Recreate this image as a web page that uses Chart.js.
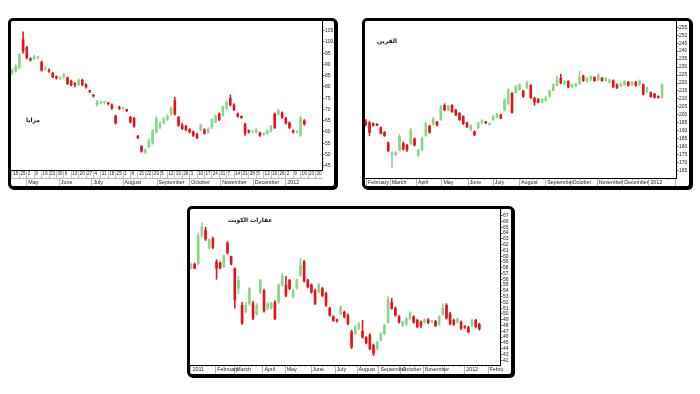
<!DOCTYPE html>
<html><head><meta charset="utf-8">
<script src="https://cdn.jsdelivr.net/npm/chart.js@4.4.1/dist/chart.umd.min.js"></script>
<style>
html,body{margin:0;padding:0;background:#fff;width:700px;height:394px;overflow:hidden}
.panel{position:absolute;box-sizing:border-box;border:3px solid #000;border-radius:5px;box-shadow:1px 1px 0 #000;background:#fff}
.panel canvas{position:absolute;left:0;top:0}
.title{position:absolute;font:bold 6px 'DejaVu Sans',sans-serif;color:#111;direction:rtl;white-space:nowrap;z-index:5}
</style></head><body>
<div class="panel" style="left:8px;top:18px;width:329px;height:171px"><canvas id="c1" width="323" height="165"></canvas></div>
<div class="panel" style="left:362px;top:18px;width:330px;height:171px"><canvas id="c2" width="324" height="165"></canvas></div>
<div class="panel" style="left:187px;top:206px;width:327px;height:171px"><canvas id="c3" width="321" height="165"></canvas></div>
<div class="title" style="left:26px;top:116px">مزايا</div>
<div class="title" style="left:377px;top:37px">القرين</div>
<div class="title" style="left:228px;top:216px">عقارات الكويت</div>
<script>
// ---------- Panel 1: مزايا ----------
const open1  = [86,87,88.5,101,97.5,92.5,92.5,93,91,88,87.5,86,84.5,84,84.5,84,82.5,81.5,81,83,81,78.5,76.5,72,73,73,72.8,72,67,71,70.5,70,66.5,66,58,53.5,51,53.5,55,60,62,64,65.5,68,74,66.5,63,62.5,61,60,59,61,61,60,62,64.5,68,67.5,70.5,75,72,68,67,63.5,60.5,60,60,59.5,59,59.5,60.5,68,68,68.5,66,64,60.5,60,58.5,65];
const high1  = [88,90,95,104.5,98,93,94,93.5,91.5,89,88,86.5,85,84.5,86,84.5,83,82,83.5,83.5,81.5,78.5,76.5,74,73.5,73.5,73,72.5,67.5,71.5,71,70,67,66.5,58.5,54,52.5,57,61,67,64.5,66.5,67.5,71,75.5,67,64,63,61.5,60.5,59.5,63.5,61.5,62,66,67.5,68.5,71.5,74,76.5,72.5,68.5,67,64,61,60.5,61.5,60,59.5,61,63,68.5,70,69,66.5,64.5,61,60.5,67,65.5];
const low1   = [85.5,86.5,88,95,92.5,91.5,92,92.5,87,87.5,86.5,84,83.5,83.5,84,81,80.5,80,80.5,80.5,79.5,77.5,75.5,71.5,72.5,72.5,72,70,63.5,70,70,69,64,62,57,51,50.5,53,54.5,59.5,61.5,63.5,65,67.5,67.5,62.5,61,60.5,59.5,58,57,60.5,59,59.5,61.5,64,65,67,70,71.5,69.5,66.5,66,58.5,59.5,59.5,59.5,58,58.5,59,60,61.5,67.5,66,63.5,61.5,59.5,59.5,58,63];
const close1 = [87.5,89,94.5,96,93,92,93.5,93,87.5,88.5,87,84.5,84,84,85.5,81.5,81,81,83,81,80,78,76,73.5,73,73.2,72.5,70.5,64,70.5,70.5,69.5,64.5,62.5,57.5,51.5,52,56,60.5,66,63.5,66,67,70.5,68,63,61.5,61,60,58.5,57.5,63,59.5,61.5,65.5,67,65.5,71,73,72,70,67,66.5,59.5,60,60,61,58.5,59,60.5,62.5,62,69.5,66.5,64,62,60,60,66,63.5];
const yTicks1 = [45,50,55,60,65,70,75,80,85,90,95,100,105];
const weekLabels1 = ["18","25","2","9","16","23","30","6","13","20","27","4","11","18","25","1","8","15","22","29","5","12","19","26","3","10","17","24","31","7","14","21","28","5","12","19","26","2","9","16","23","30"];
const monthNames1 = ["May","June","July","August","September","October","November","December","2012"];
const monthPos1   = [4,12.8,21.6,30,39.2,48,56.4,65.2,74];

// ---------- Panel 2: القرين ----------
const open2  = [196,195,194.5,194,192,189,182.5,175,175,178,182,181,182,185,174.5,178,187,193,194,195.5,197,206,203,206,203,201,199,195,191,189.5,192,195,195.5,194,197,198.5,200,203,207,213.5,214,216,215,217,218.5,210.5,209.5,208,209,211.5,215.5,218.5,223,219.5,221,217.5,218,219.5,224.5,221,222,223.5,222,223,221.5,220.5,221.5,219,218,219,220.5,219,220.5,219,219,214.5,214,213,211.5,211];
const high2  = [197,196,195,194.5,192.5,189.5,183,177,177,188,183,181.5,191.5,185.5,178.5,186,195.5,193.5,198.5,196,206,207,206,206.5,203.5,201.5,199.5,195.5,194,190,195.5,197,196,195,199.5,201,200.5,210.5,216.5,214,218.5,219.5,215.5,221,219,211,210.5,210.5,211.5,215.5,219.5,224.5,225.5,221.5,221.5,219.5,220,227.5,225,223.5,224.5,224,226,223.5,223.5,222.5,222,219.5,220,221.5,221,221,221,222,219.5,217.5,214.5,213.5,212,219.5];
const low2   = [193,187,193,193,188,186.5,177,167,174.5,177.5,178,177,181.5,180.5,174,177.5,186.5,188.5,193.5,193,196.5,202.5,202.5,201.5,199.5,196.5,194,192,190,187,191.5,194.5,194.5,193.5,196.5,198,197.5,202.5,206.5,201,213.5,215.5,211,216.5,210,206,207.5,207.5,208.5,211,215,218,219.5,219,217,217,217.5,219,221,220.5,221.5,221,221.5,221,221,220,217,216.5,217.5,218.5,218,218.5,218,218.5,212.5,214,211,210.5,210.5,210.5];
const close2 = [194,189,193.5,193.5,188.5,187,177.5,176,176.5,186.5,178.5,178,190.5,181,178,185,194.5,189,197.5,193.5,205,203,205.5,202,200,197,194.5,192.5,193.5,187.5,195,196.5,195,194.5,199,200.5,198,209.5,215.5,201.5,218,219,211.5,220,211,208,208,210,211,215,219,222,220,221,217.5,219,219.5,224,221.5,223,224,221.5,225,221.5,223,222,217.5,217,219.5,221,218.5,220.5,218.5,221,213,217,211.5,211,211,219];
const yTicks2 = [165,170,175,180,185,190,195,200,205,210,215,220,225,230,235,240,245,250,255];
const monthNames2 = ["February","March","April","May","June","July","August","September","October","November","December","2012",""];
const monthPos2   = [0.2,6.5,13.5,20.3,27.3,34,41,48,54.7,61.7,68.5,75.5,82.5];

// ---------- Panel 3: عقارات الكويت ----------
const open3  = [57.9,58.6,58.7,63.5,64.5,61.5,63,59,58.8,58.2,62.2,59.9,57.8,54.5,51.5,50.4,51.8,51.8,50,53.8,54,51,51,52,52,55,55,55.8,53,54.5,56.7,59,55.8,55,54,53.8,54.4,53.5,51,49.5,49,50,50.3,49.8,46.9,46.6,47.5,47,45.9,46.3,44.6,44,45.5,46.6,48.6,52,51,49.5,48,48.2,49.2,49.5,48.9,48.6,48.6,49,48.7,48.7,48.2,50,51.5,50,48.9,48.6,48.6,47.8,47.7,48,48.9,48.2];
const high3  = [58.8,58.8,64,65.8,65,63,63.3,59.4,59,60.2,62.6,60,58,56.5,52,52,54.6,52.2,51.8,56,54.3,52,52,52.3,55.3,57,56.5,56,54.3,56,59.6,59.3,56,55.2,54.3,55.3,54.6,53.8,51.2,49.7,49.1,51.4,50.5,50,47.2,48,48.5,48.9,46.1,46.6,44.8,45.3,46.8,48.2,53,52.7,51.2,49.7,48.8,49.4,50.4,49.7,49.1,48.8,49.2,49.2,48.9,48.9,49.7,51.8,51.8,50.3,49.1,49.3,48.8,48,47.9,49.1,49.1,48.4];
const low3   = [57.8,57.8,58.5,63.3,62.7,61.2,61.3,56,57.8,58,60.3,58.5,51,53.5,48.2,50.2,51.5,49,49.8,53.5,50.3,50.7,50.8,49,51.8,54.8,53,54.2,52.8,54.3,56.5,55.5,54.5,53.6,51.6,53.6,53,51.3,49.6,48.7,48.6,49.8,49.3,48.1,44,46.4,47.3,45.8,44.8,43.8,42.8,43.8,45.3,46.4,48.4,50.8,49.6,48.4,47.8,48,49,48.4,47.6,47.6,48.4,48.3,48.5,47.8,48,49.8,49.1,48.1,48,48.4,47.3,47.5,46.7,47.8,47.6,47.2];
const close3 = [58.6,57.9,63.5,65,63,62.8,61.5,57.9,58,60,60.6,58.6,52.5,55.8,48.4,51.5,54.4,49.3,51.5,55.8,50.5,51.7,51.8,49.2,55,56.5,53.2,54.4,54,55.8,58.4,55.7,54.7,53.8,51.8,55,53.2,51.5,49.8,48.9,48.8,51.2,49.5,48.3,44.3,47.7,48.3,46,45,44,43.2,45.1,46.6,48,52.5,51,49.8,48.6,48.6,49.2,50.2,48.6,47.8,48,49,48.5,48.7,48,49.5,51,49.3,48.3,48.2,49.1,47.5,47.7,46.9,48.9,47.8,47.4];
const yTicks3 = [42,43,44,45,46,47,48,49,50,51,52,53,54,55,56,57,58,59,60,61,62,63,64,65,66,67];
const monthNames3 = ["2011","February","March","April","May","June","July","August","September","October","November","","2012","Febru"];
const monthPos3   = [0,6.8,12,19.7,25.8,32.9,39.5,45.5,51.5,57.5,63.6,69.5,75,81.4];

// ---------- drawing ----------
const RED = '#e5141c', GREEN = '#88d888';
const FONT = "'Liberation Sans', Arial, sans-serif";
function zeroPad(s){ s.paddingLeft=0; s.paddingRight=0; s.paddingTop=0; s.paddingBottom=0; }
function seq(a, b, step){ const r=[]; for(let v=a; v<=b+1e-9; v+=step) r.push(v); return r; }

function makeChart(id, d) {
  const idx = d.open.map((_, i) => i);
  const col = idx.map(i => d.close[i] >= d.open[i] ? GREEN : RED);
  const wick = idx.map(i => ({x: i, y: [Math.min(d.low[i], d.open[i], d.close[i]), Math.max(d.high[i], d.open[i], d.close[i])]}));
  const body = idx.map(i => ({x: i, y: [d.open[i], d.close[i]]}));
  const rowPad = h => -h/2 - 3;
  const scales = {
    ym: {
      type:'linear', position:'right', weight:0, min:d.yMin, max:d.yMax, bounds:'data',
      afterBuildTicks: s => { s.ticks = seq(Math.ceil(d.yMin/d.yMinor)*d.yMinor, d.yMax, d.yMinor).map(v=>({value:v})); },
      ticks:{display:false},
      grid:{drawOnChartArea:false, tickLength:1.5, color:'#666', lineWidth:0.6},
      border:{display:false},
      afterFit: s => { s.width = 0; zeroPad(s); }
    },
    y: {
      type:'linear', position:'right', weight:1, min:d.yMin, max:d.yMax, bounds:'data',
      afterBuildTicks: s => { s.ticks = d.yTicks.map(v=>({value:v})); },
      ticks:{autoSkip:false, padding:0.5, font:{size:5, family:FONT}, color:'#222'},
      grid:{drawOnChartArea:false, tickLength:2.5, color:'#333', lineWidth:0.8},
      border:{display:true, color:'#000', width:1},
      afterFit: s => { s.width = d.yWidth; zeroPad(s); }
    },
    x: {
      type:'linear', position:'bottom', weight:0, min:d.xMin, max:d.xMax, bounds:'data', offset:false,
      afterBuildTicks: s => { s.ticks = d.xTicks.map(v=>({value:v})); },
      ticks:{display: !!d.xLabels, autoSkip:false, maxRotation:0, minRotation:0, align:'start', labelOffset:1,
             padding: rowPad(d.xRowH), font:{size:4.6, family:FONT}, color:'#222',
             callback:(v,i) => d.xLabels ? d.xLabels[i] : ''},
      grid:{drawOnChartArea:false, offset:false, tickLength:d.xTickLen, color:'#999', lineWidth:0.6},
      border:{display:true, color:'#000', width:1},
      afterFit: s => { s.height = d.xRowH; zeroPad(s); }
    },
    xm: {
      type:'linear', position:'bottom', weight:1, min:d.xMin, max:d.xMax, bounds:'data', offset:false,
      afterBuildTicks: s => { s.ticks = d.monthPos.map(v=>({value:v})); },
      ticks:{autoSkip:false, maxRotation:0, minRotation:0, align:'start', labelOffset:1.5,
             padding: rowPad(d.mRowH), font:{size:5.3, family:FONT}, color:'#222',
             callback:(v,i) => d.monthNames[i]},
      grid:{drawOnChartArea:false, offset:false, tickLength:d.mRowH, color:'#888', lineWidth:0.6},
      border:{display:d.mBorder, color:'#888', width:0.6},
      afterFit: s => { s.height = d.mRowH; zeroPad(s); }
    }
  };
  return new Chart(document.getElementById(id), {
    type:'bar',
    data:{datasets:[
      {data:wick, backgroundColor:col, barThickness:0.9, grouped:false, xAxisID:'x', yAxisID:'y', borderWidth:0},
      {data:body, backgroundColor:col, barThickness:2, grouped:false, minBarLength:1, xAxisID:'x', yAxisID:'y', borderWidth:0}
    ]},
    options:{
      responsive:false, animation:false, devicePixelRatio:1,
      layout:{padding:0},
      plugins:{legend:{display:false}, tooltip:{enabled:false}, title:{display:false}},
      scales
    }
  });
}

makeChart('c1', {
  open:open1, high:high1, low:low1, close:close1,
  yMin:43.1, yMax:109.3, yTicks:yTicks1, yMinor:1, yWidth:12,
  xMin:-0.27, xMax:83.78,
  xTicks: weekLabels1.map((_, w) => w*2), xLabels: weekLabels1, xRowH:8, xTickLen:8,
  monthNames:monthNames1, monthPos:monthPos1, mRowH:8, mBorder:true
});
makeChart('c2', {
  open:open2, high:high2, low:low2, close:close2,
  yMin:160.4, yMax:258.9, yTicks:yTicks2, yMinor:2.5, yWidth:13,
  xMin:-0.2, xMax:82.73,
  xTicks: seq(0.2, 82.7, 7/4.44), xLabels:null, xRowH:0, xTickLen:2,
  monthNames:monthNames2, monthPos:monthPos2, mRowH:8, mBorder:false
});
makeChart('c3', {
  open:open3, high:high3, low:low3, close:close3,
  yMin:41.17, yMax:68.16, yTicks:yTicks3, yMinor:0.5, yWidth:11,
  xMin:-0.27, xMax:84.66,
  xTicks: seq(0, 84.6, 1.5), xLabels:null, xRowH:0, xTickLen:2,
  monthNames:monthNames3, monthPos:monthPos3, mRowH:9, mBorder:false
});
</script>
</body></html>
